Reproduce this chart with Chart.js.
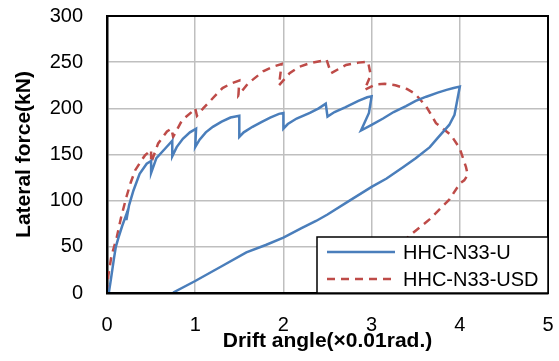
<!DOCTYPE html>
<html>
<head>
<meta charset="utf-8">
<script src="https://cdn.jsdelivr.net/npm/chart.js@4/dist/chart.umd.min.js"></script>
<style>
  body { margin: 0; background: #fff; }
  #wrap { width: 559px; height: 361px; }
</style>
</head>
<body>
<div id="wrap"><canvas id="chart" width="559" height="361"></canvas></div>
<script>
// HHC-N33-U (blue, solid)
const uDrift = [0.02, 0.04, 0.06, 0.08, 0.10, 0.13, 0.17, 0.20, 0.23, 0.22, 0.25, 0.30, 0.37, 0.45, 0.50, 0.50, 0.56, 0.66, 0.74, 0.74,
  0.79, 0.86, 0.94, 1.01, 1.00, 1.05, 1.12, 1.20, 1.30, 1.40, 1.50, 1.50, 1.55, 1.65, 1.75, 1.85, 1.95, 2.00, 2.00,
  2.05, 2.15, 2.30, 2.40, 2.48, 2.50, 2.58, 2.70, 2.85, 2.95, 3.00, 2.97, 2.88,
  3.00, 3.13, 3.25, 3.39, 3.50, 3.62, 3.75, 3.85, 3.93, 4.00,
  3.94, 3.88, 3.75, 3.66, 3.50, 3.36, 3.17, 3.00, 2.75, 2.50, 2.37, 2.20, 2.00, 1.80, 1.58, 1.30, 1.00, 0.75];
const uForce = [0, 12, 25, 38, 50, 60, 72, 80, 88, 79, 95, 111, 129, 140, 143, 130, 146, 156.5, 165, 148,
  158, 167, 174, 178, 158, 166, 174, 180, 185.5, 190, 192, 169, 174, 180, 185, 190, 194, 195, 178,
  183, 189, 195, 200, 205, 191, 196, 201, 208, 212, 213, 195, 176,
  182, 189, 196, 202.5, 208, 212.6, 217, 220, 222, 223.5,
  193, 182, 168, 158, 146, 136.5, 124, 115, 100, 85, 78, 70, 60, 52, 44, 29, 13, 0.5];

// HHC-N33-USD (red, dashed)
const usdDrift = [0.00, 0.015, 0.05, 0.11, 0.16, 0.22, 0.27, 0.32, 0.38, 0.43, 0.50, 0.50, 0.58, 0.68, 0.73, 0.75, 0.85, 0.96, 1.00, 1.02,
  1.09, 1.18, 1.31, 1.41, 1.50, 1.49, 1.60, 1.77, 1.88, 1.98, 1.95, 2.07, 2.18, 2.30, 2.49, 2.54, 2.71, 2.85, 2.96, 2.99, 2.92,
  3.05, 3.15, 3.27, 3.40, 3.49, 3.62, 3.73, 3.90, 4.00, 4.07, 4.09, 4.05, 4.00, 3.88, 3.66, 3.43, 3.10, 2.80];
const usdForce = [0, 19, 40, 60, 82, 104, 120, 133, 142, 149, 155, 141, 162, 175, 178, 169, 187, 196, 200, 192,
  200, 209, 222, 227, 230, 214, 227, 240, 245, 248, 225, 238, 245, 249, 252.5, 238, 247, 249.5, 250.5, 236, 220,
  226, 226.5, 225, 221, 216, 202, 184, 171, 156.5, 136.5, 128, 122, 118.5, 101, 80, 62, 30, 0];

const xTicks = [0, 1, 2, 3, 4, 5];
const yTicks = [0, 50, 100, 150, 200, 250, 300];

const seriesNames = ['HHC-N33-U', 'HHC-N33-USD'];
const blue = '#4a7ebb';
const red = '#be4b48';
const FONT = '"Liberation Sans", Arial, sans-serif';

function toPoints(xs, ys) {
  return xs.map((x, i) => ({ x: x, y: ys[i] }));
}

// okvir okoli risalne povrsine
const frame = {
  id: 'frame',
  afterDatasetsDraw(chart) {
    const a = chart.chartArea;
    const ctx = chart.ctx;
    ctx.save();
    ctx.strokeStyle = '#000';
    ctx.lineWidth = 2;
    ctx.strokeRect(a.left, a.top, a.right - a.left, a.bottom - a.top);
    ctx.restore();
  }
};

// legenda spodaj desno, cez crte
const boxLegend = {
  id: 'boxLegend',
  afterDraw(chart) {
    const a = chart.chartArea;
    const ctx = chart.ctx;
    const w = 231, h = 56;
    const x0 = a.right - w, y0 = a.bottom - h;
    ctx.save();
    ctx.fillStyle = '#fff';
    ctx.fillRect(x0, y0, w, h);
    ctx.strokeStyle = '#000';
    ctx.lineWidth = 1.5;
    ctx.strokeRect(x0, y0, w, h);
    ctx.font = '20px ' + FONT;
    ctx.textBaseline = 'middle';
    ctx.fillStyle = '#000';
    chart.data.datasets.forEach((ds, i) => {
      const y = y0 + 15 + i * 27;
      ctx.strokeStyle = ds.borderColor;
      ctx.lineWidth = ds.borderWidth;
      ctx.setLineDash(ds.borderDash || []);
      ctx.beginPath();
      ctx.moveTo(x0 + 10, y);
      ctx.lineTo(x0 + 78, y);
      ctx.stroke();
      ctx.setLineDash([]);
      ctx.fillText(ds.label, x0 + 86, y + 1);
    });
    ctx.restore();
  }
};

new Chart(document.getElementById('chart'), {
  type: 'scatter',
  data: {
    datasets: [
      {
        label: seriesNames[0],
        data: toPoints(uDrift, uForce),
        showLine: true,
        borderColor: blue,
        borderWidth: 2.5,
        pointRadius: 0,
        tension: 0
      },
      {
        label: seriesNames[1],
        data: toPoints(usdDrift, usdForce),
        showLine: true,
        borderColor: red,
        borderWidth: 2.5,
        borderDash: [8, 6],
        pointRadius: 0,
        tension: 0
      }
    ]
  },
  options: {
    responsive: false,
    animation: false,
    layout: { padding: { left: 0, right: 11, top: 16, bottom: 0 } },
    plugins: {
      legend: { display: false },
      tooltip: { enabled: false }
    },
    scales: {
      x: {
        type: 'linear',
        min: xTicks[0],
        max: xTicks[xTicks.length - 1],
        afterBuildTicks: (s) => { s.ticks = xTicks.map(v => ({ value: v })); },
        afterFit: (s) => { s.height = 68; s.paddingLeft = 0; s.paddingRight = 0; },
        grid: { color: '#bfbfbf', lineWidth: 1.5, drawTicks: false },
        border: { color: '#000', width: 2.5 },
        ticks: { color: '#000', padding: 20, font: { family: FONT, size: 20 } },
        title: {
          display: true,
          text: 'Drift angle(×0.01rad.)',
          color: '#000',
          font: { family: FONT, size: 21, weight: 'bold' },
          padding: { top: 0, bottom: 7 }
        }
      },
      y: {
        type: 'linear',
        min: yTicks[0],
        max: yTicks[yTicks.length - 1],
        afterBuildTicks: (s) => { s.ticks = yTicks.map(v => ({ value: v })); },
        afterFit: (s) => { s.width = 107; s.paddingTop = 0; s.paddingBottom = 0; },
        grid: { color: '#bfbfbf', lineWidth: 1.5, drawTicks: false },
        border: { color: '#000', width: 2.5 },
        ticks: { color: '#000', padding: 24, font: { family: FONT, size: 20 } },
        title: {
          display: true,
          text: 'Lateral force(kN)',
          color: '#000',
          font: { family: FONT, size: 21, weight: 'bold' },
          padding: { top: 12, bottom: 0 }
        }
      }
    }
  },
  plugins: [frame, boxLegend]
});
</script>
</body>
</html>
